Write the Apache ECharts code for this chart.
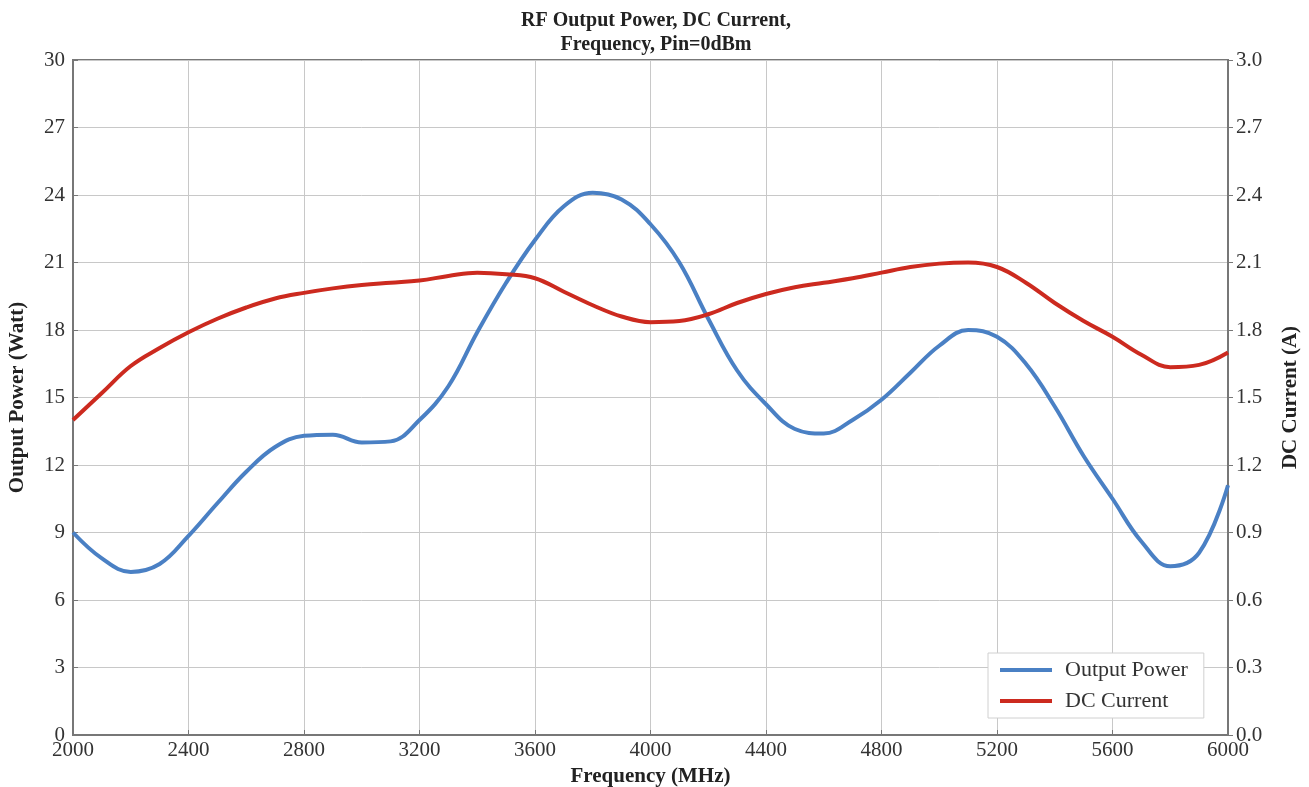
<!DOCTYPE html>
<html>
<head>
<meta charset="utf-8">
<script src="https://cdn.jsdelivr.net/npm/echarts@6/dist/echarts.min.js"></script>
<style>
html,body{margin:0;padding:0;background:#fff;}
#chart{width:1309px;height:787px;}
</style>
</head>
<body>
<div id="chart"></div>
<script>
const frequency = [2000,2100,2200,2300,2400,2500,2600,2700,2800,2900,3000,3100,3200,3300,3400,3500,3600,3700,3800,3900,4000,4100,4200,4300,4400,4500,4600,4700,4800,4900,5000,5100,5200,5300,5400,5500,5600,5700,5800,5900,6000];
const outputPower = [9.0,7.85,7.25,7.6,8.85,10.3,11.7,12.8,13.3,13.35,13.0,13.05,14.0,15.5,17.9,20.1,22.0,23.5,24.1,23.8,22.7,21.0,18.5,16.2,14.7,13.6,13.4,14.0,14.9,16.1,17.3,18.0,17.7,16.5,14.6,12.4,10.5,8.6,7.5,8.1,11.1];
const dcCurrent = [1.40,1.52,1.64,1.72,1.79,1.85,1.90,1.94,1.965,1.985,2.0,2.01,2.02,2.04,2.055,2.048,2.03,1.97,1.91,1.86,1.835,1.84,1.87,1.92,1.96,1.99,2.01,2.03,2.055,2.08,2.095,2.10,2.08,2.01,1.92,1.84,1.77,1.69,1.635,1.645,1.70];
const seriesNames = ['Output Power','DC Current'];
const titleText = 'RF Output Power, DC Current,\nFrequency, Pin=0dBm';

const FONT = '"Liberation Serif", "DejaVu Serif", serif';
const chart = echarts.init(document.getElementById('chart'), null, {renderer:'canvas'});
const zip = (xs, ys) => xs.map((x,i)=>[x, ys[i]]);

chart.setOption({
  backgroundColor:'#fff',
  animation:false,
  title:{
    text:titleText,
    left:651, top:4, textAlign:'center',
    textStyle:{fontFamily:FONT, fontWeight:'bold', fontSize:20, color:'#222', lineHeight:24}
  },
  grid:{left:73, right:81, top:60, bottom:52, show:true, borderColor:'#777', borderWidth:2, outerBoundsMode:'none', containLabel:false},
  legend:{
    data:seriesNames,
    orient:'vertical',
    left:988, top:653,
    backgroundColor:'#fff',
    borderColor:'#d0d0d0', borderWidth:1,
    padding:[6,16,6,12],
    itemGap:9,
    itemWidth:52, itemHeight:4,
    icon:'rect',
    textStyle:{fontFamily:FONT, fontSize:22, color:'#333', padding:[0,0,0,8]}
  },
  xAxis:{
    type:'value', min:2000, max:6000, interval:400,
    name:'Frequency (MHz)', nameLocation:'middle', nameGap:25,
    nameTextStyle:{fontFamily:FONT, fontWeight:'bold', fontSize:21, color:'#222'},
    axisLine:{show:true, lineStyle:{color:'#777', width:2}},
    axisTick:{show:true, inside:true, length:5, lineStyle:{color:'#777'}},
    axisLabel:{fontFamily:FONT, fontSize:21, color:'#333', margin:5, formatter:v=>String(v)},
    splitLine:{show:true, lineStyle:{color:'#c8c8c8', width:1}}
  },
  yAxis:[{
    type:'value', min:0, max:30, interval:3, position:'left',
    name:'Output Power (Watt)', nameLocation:'middle', nameGap:45, nameRotate:90,
    nameTextStyle:{fontFamily:FONT, fontWeight:'bold', fontSize:21, color:'#222'},
    axisLine:{show:true, lineStyle:{color:'#777', width:2}},
    axisTick:{show:true, inside:true, length:5, lineStyle:{color:'#777'}},
    axisLabel:{fontFamily:FONT, fontSize:21, color:'#333', margin:8},
    splitLine:{show:true, lineStyle:{color:'#c8c8c8', width:1}}
  },{
    type:'value', min:0, max:3, interval:0.3, position:'right',
    name:'DC Current (A)', nameLocation:'middle', nameGap:52, nameRotate:90,
    nameTextStyle:{fontFamily:FONT, fontWeight:'bold', fontSize:21, color:'#222'},
    axisLine:{show:true, lineStyle:{color:'#777', width:2}},
    axisTick:{show:true, inside:false, length:5, lineStyle:{color:'#777'}},
    axisLabel:{fontFamily:FONT, fontSize:21, color:'#333', margin:8, formatter:v=>v.toFixed(1)},
    splitLine:{show:false}
  }],
  series:[{
    name:seriesNames[0], type:'line', yAxisIndex:0,
    data:zip(frequency, outputPower),
    smooth:0.4, showSymbol:false, symbol:'none',
    lineStyle:{color:'#4a80c4', width:4},
    itemStyle:{color:'#4a80c4'}
  },{
    name:seriesNames[1], type:'line', yAxisIndex:1,
    data:zip(frequency, dcCurrent),
    smooth:0.4, showSymbol:false, symbol:'none',
    lineStyle:{color:'#cc2a1f', width:4},
    itemStyle:{color:'#cc2a1f'}
  }]
});
</script>
</body>
</html>
